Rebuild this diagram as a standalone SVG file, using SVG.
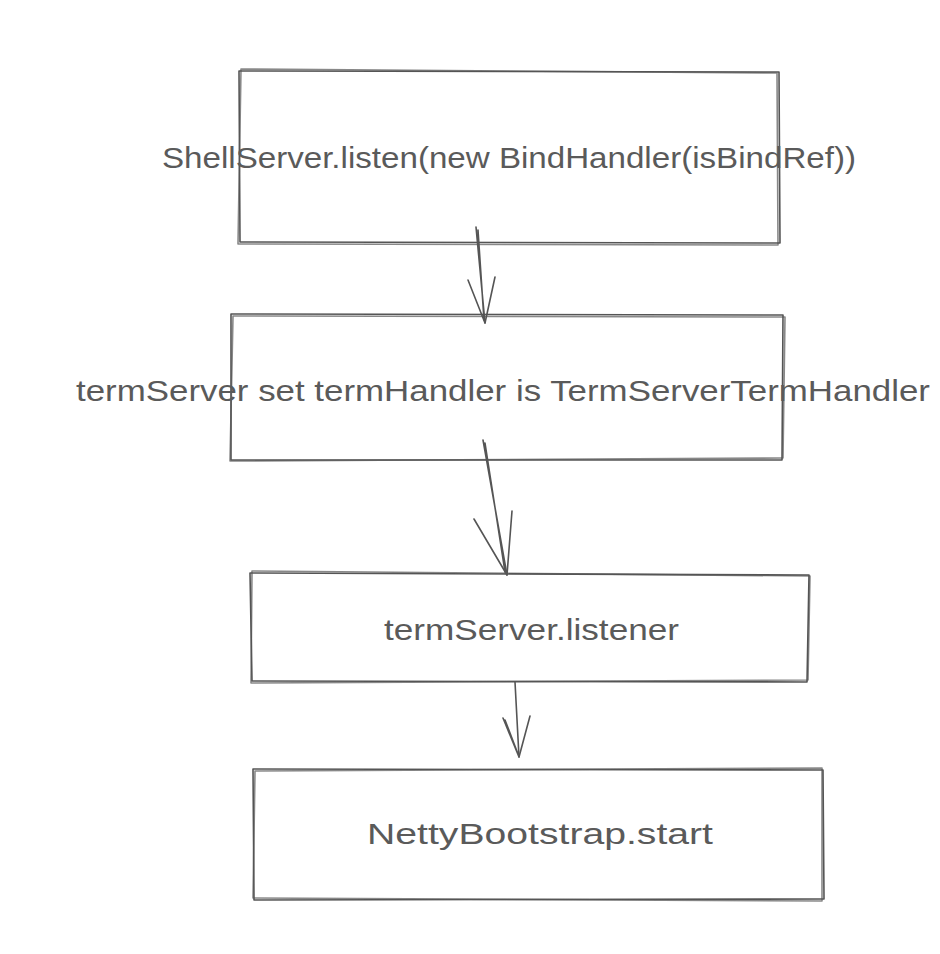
<svg xmlns="http://www.w3.org/2000/svg" width="940" height="954" viewBox="0 0 940 954">
<style>
.box{fill:none;stroke:#555;stroke-width:1.6;stroke-linecap:round;stroke-linejoin:round}
.edge{fill:none;stroke:#555;stroke-width:1.6;stroke-linecap:round;stroke-linejoin:round}
.lbl{font-family:"Liberation Sans","DejaVu Sans",sans-serif;font-size:29px;fill:#5a5a5a}
</style>
<rect width="940" height="954" fill="#fff"/>
<g id="node1">
<path class="box" d="M239 71 L779 72 L780 243 L240 242 Z"/>
<path class="box" d="M241 69 L777 73 L778 245 L238 244 Z" opacity="0.7"/>
<text class="lbl" x="162" y="168" textLength="694" lengthAdjust="spacingAndGlyphs">ShellServer.listen(new BindHandler(isBindRef))</text>
</g>
<g id="node2">
<path class="box" d="M231 314 L783 315 L782 460 L231 460 Z"/>
<path class="box" d="M233 316 L785 317 L783 458 L230 461 Z" opacity="0.7"/>
<text class="lbl" x="76" y="401" textLength="854" lengthAdjust="spacingAndGlyphs">termServer set termHandler is TermServerTermHandler</text>
</g>
<g id="node3">
<path class="box" d="M250 573 L809 575 L807 682 L252 681 Z"/>
<path class="box" d="M252 571 L810 576 L808 680 L251 683 Z" opacity="0.7"/>
<text class="lbl" x="384" y="640" textLength="295" lengthAdjust="spacingAndGlyphs">termServer.listener</text>
</g>
<g id="node4">
<path class="box" d="M253 769 L823 770 L824 899 L254 900 Z"/>
<path class="box" d="M255 771 L822 768 L822 901 L253 898 Z" opacity="0.7"/>
<text class="lbl" x="367" y="844" textLength="346" lengthAdjust="spacingAndGlyphs">NettyBootstrap.start</text>
</g>
<g id="connectors">
<path class="edge" d="M476 227 L485 323 M478 230 L484 320"/>
<path class="edge" d="M468 280 L485 323 L495 277"/>
<path class="edge" d="M483 440 L507 575 M485 443 L505 572"/>
<path class="edge" d="M474 519 L507 575 L512 511"/>
<path class="edge" d="M515 682 L519 757"/>
<path class="edge" d="M503 718 L519 757 L530 716 M505 720 L518 754"/>
</g>
</svg>
